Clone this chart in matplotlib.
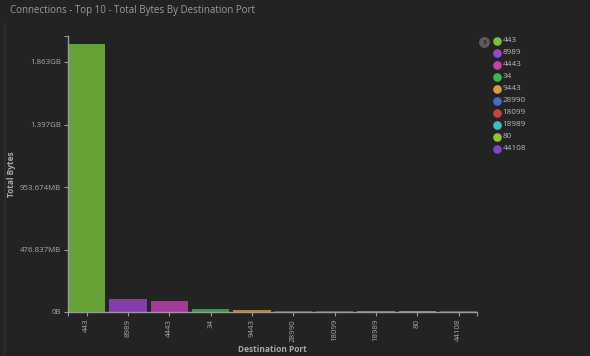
import matplotlib
matplotlib.use("Agg")
import matplotlib.pyplot as plt
from matplotlib.lines import Line2D

# ---------------------------------------------------------------------------
# data: total bytes per destination port (top 10)
# ---------------------------------------------------------------------------
PORTS = ["443", "8989", "4443", "34", "9443", "28990", "18099", "18989", "80", "44108"]
TOTAL_BYTES = [2.144e9, 1.04e8, 8.8e7, 2.3e7, 1.6e7, 1.2e7, 8e6, 7e6, 6e6, 5e6]
COLORS = ["#78c13a", "#9a46d0", "#c83fb4", "#34bd4c", "#d49f3c",
          "#3f6fcc", "#cc3f3f", "#33c2bb", "#93c22e", "#7d44cc"]
Y_TICKS = [0, 5e8, 1e9, 1.5e9, 2e9]
Y_MAX = 2.208e9

BG = "#232323"
AXIS = "#9a9a9a"
TEXT = "#a8a8a8"
FONT = ["Open Sans", "DejaVu Sans"]


def fmt_bytes(v):
    if v == 0:
        return "0B"
    units = ["B", "KB", "MB", "GB", "TB"]
    i = 0
    while v >= 1024 and i < len(units) - 1:
        v /= 1024.0
        i += 1
    return f"{v:.3f}".rstrip("0").rstrip(".") + units[i]


plt.rcParams["font.family"] = FONT

fig = plt.figure(figsize=(5.9, 3.56), dpi=100, facecolor=BG)
ax = fig.add_axes([68 / 590, 44 / 356, 409 / 590, 276 / 356])
ax.set_facecolor(BG)

x = list(range(len(PORTS)))
ax.bar(x, TOTAL_BYTES, width=0.9, color=COLORS, alpha=0.8, linewidth=0)

ax.set_xlim(-0.45, 9.44)
ax.set_ylim(0, Y_MAX)

for side in ("top", "right"):
    ax.spines[side].set_visible(False)
for side in ("left", "bottom"):
    ax.spines[side].set_color(AXIS)
    ax.spines[side].set_linewidth(1.0)

ax.set_xticks(x)
ax.set_xticklabels(PORTS, rotation=90, fontsize=5.7, color=TEXT)
ax.set_yticks(Y_TICKS)
ax.set_yticklabels([fmt_bytes(v) for v in Y_TICKS], fontsize=5.7, color=TEXT)
ax.tick_params(axis="both", colors=AXIS, length=3, width=0.8, pad=2)
ax.tick_params(axis="x", labelcolor=TEXT)
ax.tick_params(axis="y", labelcolor=TEXT)

# outer ticks at the ends of both axes
ax.set_xticks([-0.45, 9.44], minor=True)
ax.set_yticks([Y_MAX], minor=True)
ax.tick_params(which="minor", colors=AXIS, length=3, width=0.8)

ax.set_xlabel("Destination Port", fontsize=6, fontweight="bold", color=TEXT)
ax.xaxis.set_label_coords(0.5, -(345 - 312) / 276)
ax.set_ylabel("Total Bytes", fontsize=6, fontweight="bold", color=TEXT)
ax.yaxis.set_label_coords(-(68 - 16) / 409, 0.5)

fig.text(10 / 590, 1 - 10 / 356, "Connections - Top 10 - Total Bytes By Destination Port",
         fontsize=7, color="#9c9c9c", va="center", ha="left")

# panel edge on the left
fig.add_artist(Line2D([4.5 / 590, 4.5 / 590], [0, 1 - 24 / 356],
                      color="#303030", linewidth=1.2, transform=fig.transFigure))

# legend: coloured dots with labels
for i, (port, col) in enumerate(zip(PORTS, COLORS)):
    yy = 1 - (40.7 + 12 * i) / 356
    fig.add_artist(Line2D([497 / 590], [yy], marker="o", markersize=5.2,
                          color=col, linestyle="none", transform=fig.transFigure))
    fig.text(502.5 / 590, yy, port, fontsize=5.9, color="#b8b8b8", va="center", ha="left")

# collapse toggle next to the legend
fig.add_artist(Line2D([484 / 590], [1 - 41.5 / 356], marker="o", markersize=6.8,
                      color="#5c5c5c", linestyle="none", transform=fig.transFigure))
fig.text(484.4 / 590, 1 - 41.8 / 356, "›", fontsize=8, color="#262626",
         va="center", ha="center", fontweight="bold")

fig.savefig("out.png", dpi=100, facecolor=BG)
